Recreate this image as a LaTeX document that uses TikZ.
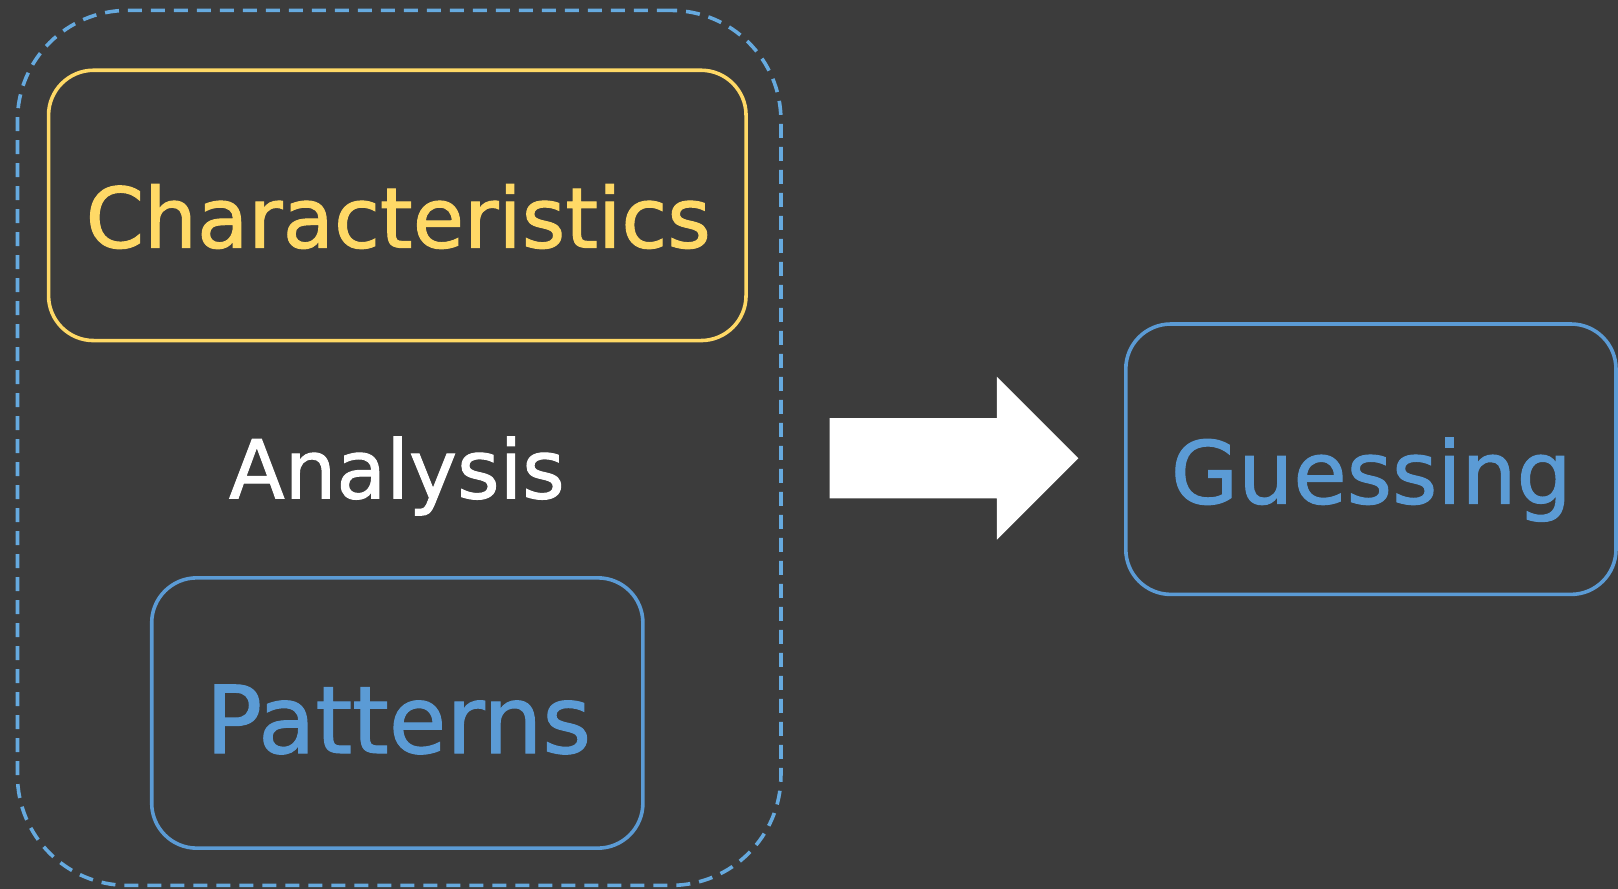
\documentclass[tikz,border=0pt]{standalone}
\usepackage{fontspec}
\setmainfont[FakeBold=1.2]{DejaVu Sans}
\definecolor{bg}{HTML}{3C3C3C}
\definecolor{gold}{HTML}{FFD966}
\definecolor{sky}{HTML}{5B9BD5}
\definecolor{skydash}{HTML}{66AADF}
\tikzset{
  card/.style={draw, line width=3.6pt, rounded corners=45pt, inner sep=0pt},
  word/.style={anchor=base, inner sep=0pt},
}
\begin{document}
\begin{tikzpicture}[x=1pt, y=-1pt]
  % canvas
  \useasboundingbox (0,0) rectangle (1618,889);
  \fill[bg] (0,0) rectangle (1618,889);

  % dashed group around the analysis part
  \node[draw=skydash, line width=3.6pt, dash pattern=on 14pt off 9pt,
        rounded corners=110pt, inner sep=0pt,
        minimum width=763.5pt, minimum height=875pt] (group) at (399.2,447.9) {};

  % boxes
  \node[card, draw=gold, minimum width=697.5pt, minimum height=270.3pt] (charbox) at (397.3,205.4) {};
  \node[card, draw=sky, minimum width=491.2pt, minimum height=270.3pt] (patbox) at (397.3,713) {};
  \node[card, draw=sky, minimum width=490.2pt, minimum height=270.4pt] (guessbox) at (1370.9,459.2) {};

  % labels
  \node[word, text=gold] (chartext) at (398.3,247.7) {\resizebox{625pt}{!}{Characteristics}};
  \node[word, text=white] (analysis) at (396.8,498.4) {\resizebox{335.5pt}{!}{Analysis}};
  \node[word, text=sky] (pattext) at (398.5,753) {\resizebox{385pt}{!}{Patterns}};
  \node[word, text=sky] (guesstext) at (1371.3,503.6) {\resizebox{400.6pt}{!}{Guessing}};

  % block arrow from the group to the guess box
  \coordinate (arrtail) at (829.7,458.2);
  \coordinate (arrtip) at (1078.3,458.2);
  \fill[white] (arrtail) ++(0,-40.2) -- ++(167.1,0) -- ++(0,-41.4)
     -- (arrtip) -- ++(-81.5,81.5) -- ++(0,-41.3) -- ++(-167.1,0) -- cycle;
\end{tikzpicture}
\end{document}
